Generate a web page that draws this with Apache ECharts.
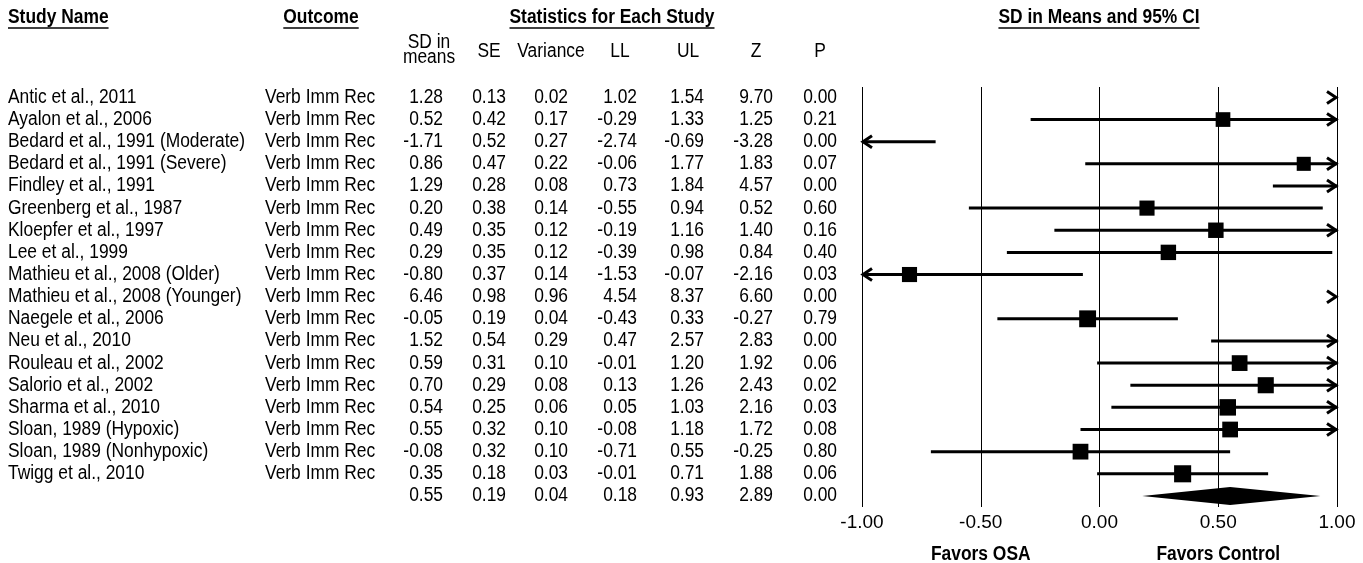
<!DOCTYPE html>
<html><head><meta charset="utf-8">
<script src="https://cdn.jsdelivr.net/npm/echarts@6/dist/echarts.min.js"></script>
<style>html,body{margin:0;padding:0;background:#fff}#c{width:1363px;height:563px}</style>
</head><body><div id="c"></div>
<script>
// ---------------- DATA ----------------
const studies = [
  'Antic et al., 2011','Ayalon et al., 2006','Bedard et al., 1991 (Moderate)','Bedard et al., 1991 (Severe)',
  'Findley et al., 1991','Greenberg et al., 1987','Kloepfer et al., 1997','Lee et al., 1999',
  'Mathieu et al., 2008 (Older)','Mathieu et al., 2008 (Younger)','Naegele et al., 2006','Neu et al., 2010',
  'Rouleau et al., 2002','Salorio et al., 2002','Sharma et al., 2010','Sloan, 1989 (Hypoxic)',
  'Sloan, 1989 (Nonhypoxic)','Twigg et al., 2010'
];
const outcomes = ['Verb Imm Rec','Verb Imm Rec','Verb Imm Rec','Verb Imm Rec','Verb Imm Rec','Verb Imm Rec',
  'Verb Imm Rec','Verb Imm Rec','Verb Imm Rec','Verb Imm Rec','Verb Imm Rec','Verb Imm Rec',
  'Verb Imm Rec','Verb Imm Rec','Verb Imm Rec','Verb Imm Rec','Verb Imm Rec','Verb Imm Rec'];
const sdMeans  = [1.28, 0.52, -1.71, 0.86, 1.29, 0.20, 0.49, 0.29, -0.80, 6.46, -0.05, 1.52, 0.59, 0.70, 0.54, 0.55, -0.08, 0.35];
const stdErr   = [0.13, 0.42, 0.52, 0.47, 0.28, 0.38, 0.35, 0.35, 0.37, 0.98, 0.19, 0.54, 0.31, 0.29, 0.25, 0.32, 0.32, 0.18];
const variance = [0.02, 0.17, 0.27, 0.22, 0.08, 0.14, 0.12, 0.12, 0.14, 0.96, 0.04, 0.29, 0.10, 0.08, 0.06, 0.10, 0.10, 0.03];
const lowerLim = [1.02, -0.29, -2.74, -0.06, 0.73, -0.55, -0.19, -0.39, -1.53, 4.54, -0.43, 0.47, -0.01, 0.13, 0.05, -0.08, -0.71, -0.01];
const upperLim = [1.54, 1.33, -0.69, 1.77, 1.84, 0.94, 1.16, 0.98, -0.07, 8.37, 0.33, 2.57, 1.20, 1.26, 1.03, 1.18, 0.55, 0.71];
const zValue   = [9.70, 1.25, -3.28, 1.83, 4.57, 0.52, 1.40, 0.84, -2.16, 6.60, -0.27, 2.83, 1.92, 2.43, 2.16, 1.72, -0.25, 1.88];
const pValue   = [0.00, 0.21, 0.00, 0.07, 0.00, 0.60, 0.16, 0.40, 0.03, 0.00, 0.79, 0.00, 0.06, 0.02, 0.03, 0.08, 0.80, 0.06];
// summary (pooled) row: SD in means, SE, Variance, LL, UL, Z, P
const summaryStats = [0.55, 0.19, 0.04, 0.18, 0.93, 2.89, 0.00];
const xTickValues = [-1, -0.5, 0, 0.5, 1];
const favorLabels = ['Favors OSA', 'Favors Control'];
const favorAt = [-0.5, 0.5];
const sectionTitles = ['Study Name', 'Outcome', 'Statistics for Each Study', 'SD in Means and 95% CI'];
const columnHeaders = ['SD in\nmeans', 'SE', 'Variance', 'LL', 'UL', 'Z', 'P'];

// ---------------- LAYOUT / STYLE ----------------
const FONT = "'Liberation Sans', Arial, sans-serif";
const FS = 20;
const SX = 0.87; // horizontal condensing to mimic a narrow face
const X_MIN = -1, X_MAX = 1;
const colRight = [443, 506, 568, 637, 704, 773, 837];
const colHeadCenter = [429, 489, 551, 620, 688, 756, 820];
const titleX = [8, 321, 612, 1099];
const titleAlign = ['left', 'center', 'center', 'center'];
const nameX = 8, outcomeX = 265;

const ctx = document.createElement('canvas').getContext('2d');
function textW(t, bold) { ctx.font = (bold ? 'bold ' : '') + FS + 'px ' + FONT; return ctx.measureText(t).width * SX; }

const nRows = studies.length; // summary is row nRows
const tableData = [];
for (let i = 0; i <= nRows; i++) tableData.push([0, i]);
const forestData = studies.map((s, i) => [i, sdMeans[i], lowerLim[i], upperLim[i], variance[i]]);
const diamondData = [[nRows, summaryStats[0], summaryStats[3], summaryStats[4]]];

function rowValues(i) {
  if (i < nRows) return [sdMeans[i], stdErr[i], variance[i], lowerLim[i], upperLim[i], zValue[i], pValue[i]];
  return summaryStats;
}
function txt(x, y, text, align, bold) {
  return { type: 'text', x: x, y: y, scaleX: SX, style: { text: text, x: 0, y: 0, fill: '#000', fontSize: FS, fontFamily: FONT,
    fontWeight: bold ? 'bold' : 'normal', align: align, verticalAlign: 'middle' } };
}

function renderTable(params, api) {
  const i = api.value(1);
  const y = api.coord([0, i])[1];
  const ch = [];
  if (i < nRows) {
    ch.push(txt(nameX, y, studies[i], 'left'));
    ch.push(txt(outcomeX, y, outcomes[i], 'left'));
  }
  rowValues(i).forEach((v, k) => ch.push(txt(colRight[k], y, v.toFixed(2), 'right')));
  return { type: 'group', children: ch };
}

function renderForest(params, api) {
  const r = api.value(0), m = api.value(1), lo = api.value(2), hi = api.value(3), v = api.value(4);
  const y = api.coord([0, r])[1];
  const xL = api.coord([X_MIN, r])[0], xR = api.coord([X_MAX, r])[0];
  const ch = [];
  const a = Math.max(lo, X_MIN), b = Math.min(hi, X_MAX);
  const ls = { stroke: '#000', lineWidth: 3, fill: 'none' };
  if (a < b) ch.push({ type: 'line', shape: { x1: api.coord([a, r])[0], y1: y, x2: api.coord([b, r])[0], y2: y }, style: ls });
  if (lo < X_MIN) ch.push({ type: 'polyline', shape: { points: [[xL + 10, y - 6], [xL + 1, y], [xL + 10, y + 6]] }, style: ls });
  if (hi > X_MAX) ch.push({ type: 'polyline', shape: { points: [[xR - 10, y - 6], [xR - 1, y], [xR - 10, y + 6]] }, style: ls });
  if (m >= X_MIN && m <= X_MAX) {
    const s = 10.8 / Math.sqrt(v + 0.37);
    const cx = api.coord([m, r])[0];
    ch.push({ type: 'rect', shape: { x: cx - s / 2, y: y - s / 2, width: s, height: s }, style: { fill: '#000' } });
  }
  return { type: 'group', children: ch };
}

function renderDiamond(params, api) {
  const r = api.value(0);
  const pm = api.coord([api.value(1), r]), pl = api.coord([api.value(2), r]), pu = api.coord([api.value(3), r]);
  const h = 9;
  return { type: 'polygon', shape: { points: [[pl[0], pm[1]], [pm[0], pm[1] - h], [pu[0], pm[1]], [pm[0], pm[1] + h]] },
    style: { fill: '#000' } };
}

function renderFavor(params, api) {
  const x = api.coord([api.value(0), 0])[0];
  return txt(x, 554, favorLabels[params.dataIndex], 'center', true);
}

// headers
const graphics = [];
sectionTitles.forEach((t, k) => {
  graphics.push(txt(titleX[k], 17, t, titleAlign[k], true));
  const w = textW(t, true);
  const x0 = titleAlign[k] === 'left' ? titleX[k] : titleX[k] - w / 2;
  graphics.push({ type: 'line', shape: { x1: x0, y1: 28, x2: x0 + w, y2: 28 }, style: { stroke: '#000', lineWidth: 1.6 } });
});
columnHeaders.forEach((t, k) => {
  const lines = t.split('\n');
  if (lines.length === 2) {
    graphics.push(txt(colHeadCenter[k], 42, lines[0], 'center'));
    graphics.push(txt(colHeadCenter[k], 57, lines[1], 'center'));
  } else {
    graphics.push(txt(colHeadCenter[k], 51, t, 'center'));
  }
});

const chart = echarts.init(document.getElementById('c'), null, { renderer: 'canvas' });
chart.setOption({
  animation: false,
  backgroundColor: '#fff',
  grid: { left: 862, right: 26, top: 87, bottom: 56 },
  xAxis: {
    type: 'value', min: X_MIN, max: X_MAX, interval: 0.5,
    axisLine: { show: false }, axisTick: { show: false },
    splitLine: { show: true, lineStyle: { color: '#000', width: 1 } },
    axisLabel: { color: '#000', fontSize: 19, fontFamily: FONT, margin: 6,
      formatter: v => xTickValues.some(t => Math.abs(t - v) < 1e-9) ? v.toFixed(2) : '' }
  },
  yAxis: { type: 'value', min: -0.47, max: 18.5, inverse: true, show: false, splitLine: { show: false } },
  graphic: graphics,
  series: [
    { type: 'custom', name: 'table', renderItem: renderTable, data: tableData, encode: { x: 0, y: 1 }, clip: false, silent: true },
    { type: 'custom', name: 'forest', renderItem: renderForest, data: forestData, encode: { x: [1, 2, 3], y: 0 }, clip: false, silent: true },
    { type: 'custom', name: 'summary', renderItem: renderDiamond, data: diamondData, encode: { x: [1, 2, 3], y: 0 }, clip: false, silent: true },
    { type: 'custom', name: 'favors', renderItem: renderFavor, data: favorAt.map(v => [v, 0]), encode: { x: 0, y: 1 }, clip: false, silent: true }
  ]
});
</script></body></html>
